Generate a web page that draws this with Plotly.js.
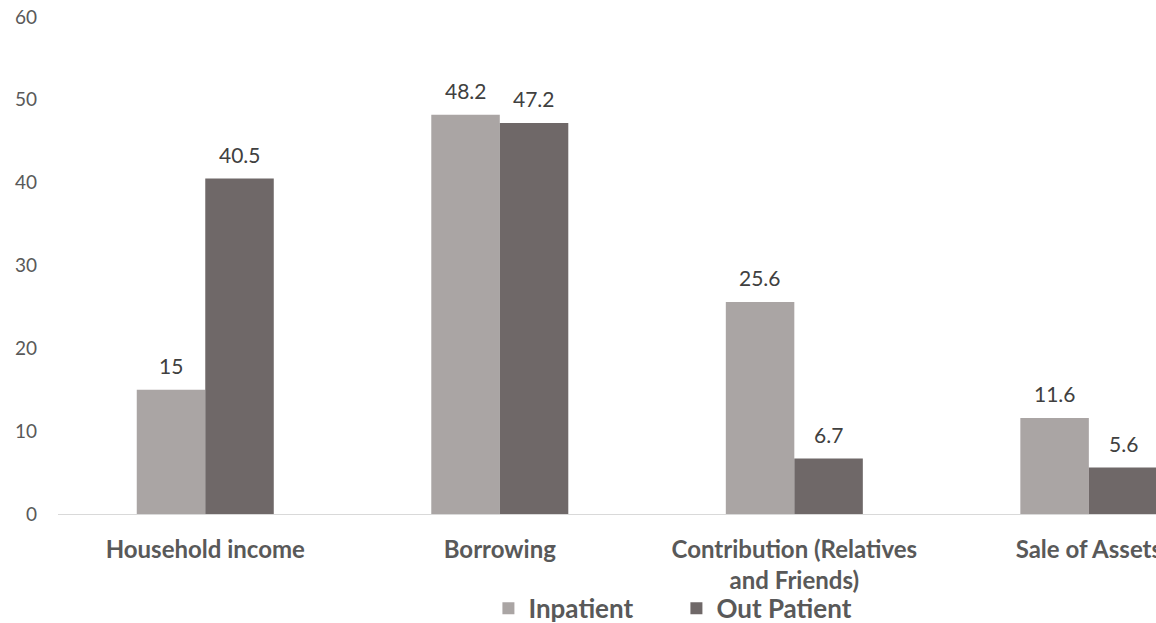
<!DOCTYPE html>
<html>
<head>
<meta charset="utf-8">
<script src="https://cdn.plot.ly/plotly-3.0.1.min.js"></script>
<style>
  html, body { margin: 0; padding: 0; background: #ffffff; overflow: hidden; }
  #chart { width: 1156px; height: 623px; }
</style>
</head>
<body>
<div id="chart"></div>
<script>
// Sources of financing health care expenditure (%)
const categories = ['Household income', 'Borrowing', 'Contribution (Relatives<br>and Friends)', 'Sale of Assets'];
const inpatient = [15, 48.2, 25.6, 11.6];
const outPatient = [40.5, 47.2, 6.7, 5.6];
const yTicks = [0, 10, 20, 30, 40, 50, 60];

const barWidth = 0.2326;
const FONT = 'Lato, "Open Sans", sans-serif';

const traces = [
  {
    type: 'bar', name: 'Inpatient', x: categories, y: inpatient,
    width: barWidth, offset: -barWidth,
    marker: { color: '#aaa5a4', line: { width: 0 } },
    hoverinfo: 'skip'
  },
  {
    type: 'bar', name: 'Out Patient', x: categories, y: outPatient,
    width: barWidth, offset: 0,
    marker: { color: '#6f6868', line: { width: 0 } },
    hoverinfo: 'skip'
  }
];

// value labels placed above each bar centre
const labelFont = { family: FONT, size: 21, color: '#404040' };
const annotations = [];
inpatient.forEach((v, i) => annotations.push({
  x: i - barWidth / 2, y: v, xref: 'x', yref: 'y', text: String(v),
  showarrow: false, yanchor: 'bottom', yshift: 10, font: labelFont
}));
outPatient.forEach((v, i) => annotations.push({
  x: i + barWidth / 2, y: v, xref: 'x', yref: 'y', text: String(v),
  showarrow: false, yanchor: 'bottom', yshift: 10, font: labelFont
}));

const layout = {
  width: 1156, height: 623,
  margin: { l: 58, r: 0, t: 17, b: 109, pad: 0, autoexpand: false },
  paper_bgcolor: '#ffffff', plot_bgcolor: '#ffffff',
  showlegend: true,
  legend: {
    orientation: 'h', x: 0.392, xanchor: 'left', y: -0.19, yanchor: 'middle',
    bgcolor: 'rgba(0,0,0,0)', borderwidth: 0,
    font: { family: FONT, size: 26, color: '#595959', weight: 'bold' },
    itemwidth: 30, entrywidth: 143, entrywidthmode: 'pixels', traceorder: 'normal'
  },
  xaxis: {
    type: 'category', range: [-0.5, 3.228], fixedrange: true, automargin: false,
    showline: true, linecolor: '#d9d9d9', linewidth: 1,
    showgrid: false, zeroline: false, ticks: '',
    ticklabelstandoff: 14,
    tickfont: { family: FONT, size: 24, color: '#595959', weight: 'bold' }
  },
  yaxis: {
    range: [0, 60], tickvals: yTicks, ticktext: yTicks.map(String), automargin: false,
    showgrid: false, zeroline: false, showline: false, ticks: '',
    ticklabelstandoff: 20,
    tickfont: { family: FONT, size: 19, color: '#595959' }
  },
  annotations: annotations
};

Plotly.newPlot('chart', traces, layout, { staticPlot: true, displayModeBar: false });
</script>
</body>
</html>
